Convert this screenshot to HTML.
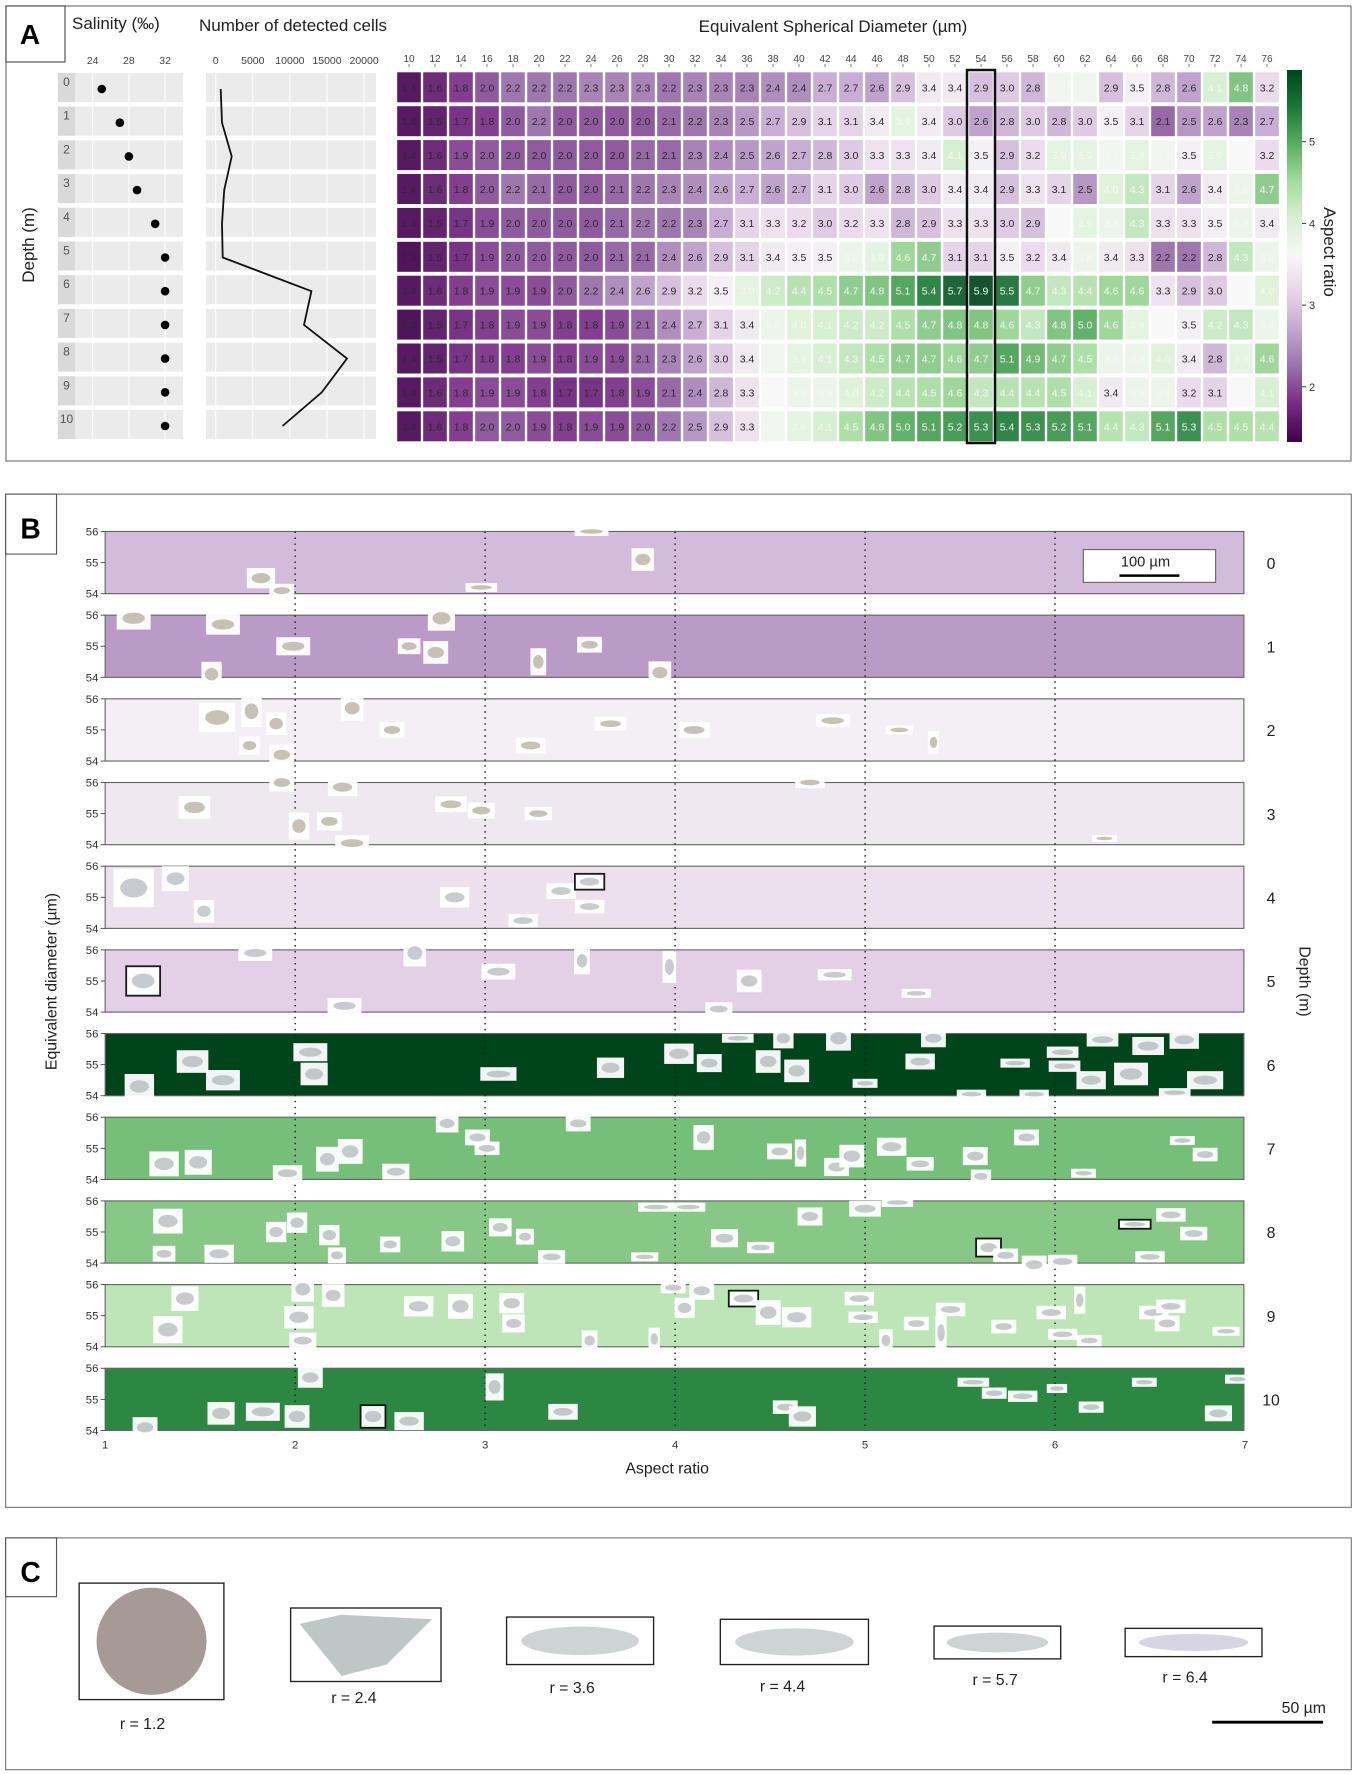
<!DOCTYPE html>
<html><head><meta charset="utf-8">
<style>
html,body{margin:0;padding:0;background:#fff;}
svg{display:block;font-family:"Liberation Sans",Arial,sans-serif;}
</style></head>
<body>
<svg id="fig" width="1357" height="1774" viewBox="0 0 1357 1774" xmlns="http://www.w3.org/2000/svg">
  <rect x="0" y="0" width="1357" height="1774" fill="#fff"/>
  <g id="panelA">
    <rect x="6" y="6" width="1345" height="455" fill="#fff" stroke="#777" stroke-width="1.2"/>
    <rect x="6" y="6" width="59" height="56" fill="#fff" stroke="#555" stroke-width="1.2"/>
    <text x="30" y="44" font-size="28" font-weight="bold" text-anchor="middle">A</text>
    <text x="72" y="29" font-size="17" fill="#222">Salinity (‰)</text>
    <text x="199" y="31" font-size="17" fill="#222">Number of detected cells</text>
    <text x="833" y="32" font-size="17" fill="#222" text-anchor="middle">Equivalent Spherical Diameter (µm)</text>
    <text transform="translate(34,245) rotate(-90)" font-size="17" fill="#222" text-anchor="middle">Depth (m)</text>
    <text transform="translate(1324,252) rotate(90)" font-size="17" fill="#222" text-anchor="middle">Aspect ratio</text>
    <defs>
      <linearGradient id="cbar" x1="0" y1="1" x2="0" y2="0">
        <stop offset="0" stop-color="#40004b"/><stop offset="0.1" stop-color="#762a83"/>
        <stop offset="0.2" stop-color="#9970ab"/><stop offset="0.3" stop-color="#c2a5cf"/>
        <stop offset="0.4" stop-color="#e7d4e8"/><stop offset="0.5" stop-color="#f7f7f7"/>
        <stop offset="0.6" stop-color="#d9f0d3"/><stop offset="0.7" stop-color="#a6dba0"/>
        <stop offset="0.8" stop-color="#5aae61"/><stop offset="0.9" stop-color="#1b7837"/>
        <stop offset="1" stop-color="#00441b"/>
      </linearGradient>
    </defs>
    <rect x="1287" y="70" width="15" height="372" fill="url(#cbar)"/>
    <g id="gA"></g>
  </g>
  <g transform="scale(1.1308)">
    <g id="panelB">
      <rect x="5" y="437" width="1190" height="896" fill="#fff" stroke="#777" stroke-width="1"/>
      <rect x="5" y="437" width="45" height="53" fill="#fff" stroke="#555" stroke-width="1"/>
      <text x="27" y="476" font-size="25" font-weight="bold" text-anchor="middle">B</text>
      <g id="gB"></g>
      <text x="590" y="1303" font-size="14" text-anchor="middle" fill="#222">Aspect ratio</text>
      <text transform="translate(50,868) rotate(-90)" font-size="14" text-anchor="middle" fill="#222">Equivalent diameter (µm)</text>
      <text transform="translate(1149,868) rotate(90)" font-size="14" text-anchor="middle" fill="#222">Depth (m)</text>
      <g>
        <rect x="958" y="486" width="117" height="29" fill="#fff" stroke="#666" stroke-width="1"/>
        <text x="1013" y="501" font-size="13" text-anchor="middle" fill="#222">100 µm</text>
        <line x1="990" y1="509" x2="1043" y2="509" stroke="#000" stroke-width="2.2"/>
      </g>
    </g>
    <g id="panelC">
      <rect x="5" y="1360" width="1190" height="205" fill="#fff" stroke="#777" stroke-width="1"/>
      <rect x="5" y="1360" width="45" height="52" fill="#fff" stroke="#555" stroke-width="1"/>
      <text x="27" y="1399" font-size="25" font-weight="bold" text-anchor="middle">C</text>
      <g id="gC"></g>
      <line x1="1072" y1="1523" x2="1170" y2="1523" stroke="#000" stroke-width="2.5"/>
      <text x="1153" y="1515" font-size="14" text-anchor="middle" fill="#222">50 µm</text>
    </g>
  </g>
</svg>
<script>
const depths = [0,1,2,3,4,5,6,7,8,9,10];
const salinity = [25.0,27.0,28.0,28.9,30.9,32.0,32.0,32.0,32.0,32.0,32.0];
const salinityTicks = [24,28,32];
const cellCounts = [670,850,2150,1150,850,950,12900,11900,17700,14300,9000];
const cellTicks = [0,5000,10000,15000,20000];
const diameters = [10,12,14,16,18,20,22,24,26,28,30,32,34,36,38,40,42,44,46,48,50,52,54,56,58,60,62,64,66,68,70,72,74,76];
const aspect = [
 [1.4,1.6,1.8,2.0,2.2,2.2,2.2,2.3,2.3,2.3,2.2,2.3,2.3,2.3,2.4,2.4,2.7,2.7,2.6,2.9,3.4,3.4,2.9,3.0,2.8,3.7,3.7,2.9,3.5,2.8,2.6,4.1,4.8,3.2],
 [1.4,1.5,1.7,1.8,2.0,2.2,2.0,2.0,2.0,2.0,2.1,2.2,2.3,2.5,2.7,2.9,3.1,3.1,3.4,3.9,3.4,3.0,2.6,2.8,3.0,2.8,3.0,3.5,3.1,2.1,2.5,2.6,2.3,2.7],
 [1.4,1.6,1.9,2.0,2.0,2.0,2.0,2.0,2.0,2.1,2.1,2.3,2.4,2.5,2.6,2.7,2.8,3.0,3.3,3.3,3.4,4.1,3.5,2.9,3.2,3.9,3.9,3.7,3.9,3.7,3.5,3.9,3.6,3.2],
 [1.4,1.6,1.8,2.0,2.2,2.1,2.0,2.0,2.1,2.2,2.3,2.4,2.6,2.7,2.6,2.7,3.1,3.0,2.6,2.8,3.0,3.4,3.4,2.9,3.3,3.1,2.5,4.0,4.3,3.1,2.6,3.4,3.8,4.7],
 [1.4,1.5,1.7,1.9,2.0,2.0,2.0,2.0,2.1,2.2,2.2,2.3,2.7,3.1,3.3,3.2,3.0,3.2,3.3,2.8,2.9,3.3,3.3,3.0,2.9,3.6,3.9,3.8,4.3,3.3,3.3,3.5,3.8,3.4],
 [1.3,1.5,1.7,1.9,2.0,2.0,2.0,2.0,2.1,2.1,2.4,2.6,2.9,3.1,3.4,3.5,3.5,3.8,3.9,4.6,4.7,3.1,3.1,3.5,3.2,3.4,3.8,3.4,3.3,2.2,2.2,2.8,4.3,3.8],
 [1.4,1.6,1.8,1.9,1.9,1.9,2.0,2.2,2.4,2.6,2.9,3.2,3.5,3.9,4.2,4.4,4.5,4.7,4.8,5.1,5.4,5.7,5.9,5.5,4.7,4.3,4.4,4.6,4.6,3.3,2.9,3.0,3.6,4.0],
 [1.3,1.5,1.7,1.8,1.9,1.9,1.8,1.8,1.9,2.1,2.4,2.7,3.1,3.4,3.8,4.0,4.1,4.2,4.2,4.5,4.7,4.8,4.8,4.6,4.3,4.8,5.0,4.6,3.9,3.6,3.5,4.2,4.3,3.8],
 [1.4,1.5,1.7,1.8,1.8,1.9,1.8,1.9,1.9,2.1,2.3,2.6,3.0,3.4,3.7,3.9,4.1,4.3,4.5,4.7,4.7,4.6,4.7,5.1,4.9,4.7,4.5,3.8,3.8,4.0,3.4,2.8,3.9,4.6],
 [1.4,1.6,1.8,1.9,1.9,1.8,1.7,1.7,1.8,1.9,2.1,2.4,2.8,3.3,3.6,3.8,3.8,4.0,4.2,4.4,4.5,4.6,4.3,4.4,4.4,4.5,4.1,3.4,3.8,3.8,3.2,3.1,3.6,4.1],
 [1.4,1.6,1.8,2.0,2.0,1.9,1.8,1.9,1.9,2.0,2.2,2.5,2.9,3.3,3.7,3.9,4.1,4.5,4.8,5.0,5.1,5.2,5.3,5.4,5.3,5.2,5.1,4.4,4.3,5.1,5.3,4.5,4.5,4.4]
];
const highlightDiameter = 54;
const colorTicks = [2,3,4,5];
const ratioTicks = [1,2,3,4,5,6,7];
const diamTicks = [54,55,56];
const thumbs0 = [[1.82,54.5,25,18],[1.93,54.1,22,12],[2.98,54.2,28,8],[3.56,56,30,8],[3.83,55.1,20,20]];
const thumbs1 = [[1.15,55.9,30,20],[1.62,55.7,30,18],[1.99,55.0,30,16],[1.56,54.1,18,22],[2.77,55.9,24,22],[2.60,55.0,20,14],[2.74,54.8,22,20],[3.28,54.5,14,24],[3.55,55.05,22,14],[3.92,54.15,20,20]];
const thumbs2 = [[1.59,55.4,32,26],[1.77,55.6,18,28],[1.9,55.2,18,20],[2.30,55.7,20,22],[2.51,55.0,22,14],[1.76,54.5,18,16],[1.93,54.2,22,18],[3.24,54.5,26,14],[3.66,55.2,28,12],[4.1,55.0,28,14],[4.83,55.3,30,12],[5.18,55.0,24,8],[5.36,54.6,10,20]];
const thumbs3 = [[1.93,56,22,16],[2.25,55.85,26,16],[1.47,55.2,28,20],[2.02,54.6,18,24],[2.18,54.75,22,16],[2.30,54.05,30,14],[2.82,55.3,28,14],[2.98,55.1,24,14],[3.28,55.0,24,12],[4.71,56,26,10],[6.26,54.2,22,6]];
const thumbs4 = [[1.15,55.3,36,34],[1.37,55.6,24,22],[1.52,54.55,18,20],[2.84,55.0,26,18],[3.2,54.25,26,12],[3.4,55.2,26,14],[3.55,55.5,26,14,1],[3.55,54.7,26,12]];
const thumbs5 = [[1.2,55.0,30,26,1],[1.79,55.9,30,14],[2.26,54.2,30,14],[2.63,55.9,20,24],[3.07,55.3,30,14],[3.51,55.65,14,24],[3.97,55.45,12,28],[4.39,55.0,22,20],[4.84,55.2,30,10],[5.27,54.6,26,8],[4.23,54.1,24,12]];
const thumbs6 = [[1.46,55.1,28,20],[1.62,54.5,30,18],[1.18,54.3,26,22],[2.08,55.4,30,16],[2.1,54.7,24,20],[3.07,54.7,32,12],[3.66,54.9,24,18],[4.02,55.35,26,18],[4.18,55.05,22,16],[4.33,55.85,28,8],[4.49,55.1,22,20],[4.57,55.85,18,18],[4.64,54.8,22,20],[4.86,55.85,22,22],[5.0,54.4,22,8],[5.36,55.85,22,16],[5.29,55.1,26,14],[5.56,54.05,26,8],[5.79,55.05,26,8],[5.89,54.05,26,8],[6.04,55.4,28,10],[6.05,54.95,28,10],[6.25,55.8,28,12],[6.49,55.6,28,16],[6.68,55.8,26,16],[6.4,54.7,30,20],[6.79,54.5,32,16],[6.63,54.1,28,8],[6.19,54.5,26,16]];
const thumbs7 = [[1.31,54.5,26,22],[1.49,54.55,24,22],[1.96,54.2,26,14],[2.17,54.65,20,22],[2.29,54.9,22,22],[2.53,54.25,24,14],[2.80,55.8,20,16],[2.96,55.35,22,14],[3.01,55.0,22,12],[3.49,55.8,22,14],[4.15,55.35,18,22],[4.55,54.9,22,14],[4.66,54.85,10,24],[4.85,54.4,22,16],[4.93,54.75,22,20],[5.14,55.05,26,16],[5.29,54.5,24,12],[5.58,54.75,22,16],[5.61,54.1,18,12],[5.85,55.35,22,14],[6.15,54.2,22,8],[6.67,55.25,22,8],[6.79,54.8,22,12]];
const thumbs8 = [[1.33,55.35,26,22],[1.6,54.3,26,16],[1.31,54.3,20,14],[1.9,55.0,18,18],[2.01,55.3,18,18],[2.18,54.9,18,18],[2.22,54.25,16,14],[2.5,54.6,18,14],[2.83,54.7,20,18],[3.08,55.15,20,16],[3.21,54.85,16,14],[3.35,54.2,24,12],[3.84,54.2,24,8],[3.9,55.8,32,8],[4.07,55.8,30,8],[4.26,54.8,24,16],[4.45,54.5,24,10],[4.71,55.5,22,16],[5.0,55.75,28,14],[5.17,55.95,28,8],[5.65,54.5,22,16,1],[5.74,54.25,22,12],[5.89,53.95,22,16],[6.04,54.05,26,12],[6.42,55.25,28,8,1],[6.61,55.55,26,12],[6.73,54.95,24,12],[6.5,54.2,26,10]];
const thumbs9 = [[1.42,55.55,24,22],[1.33,54.55,26,24],[2.04,55.85,20,22],[2.2,55.65,20,20],[2.02,54.95,26,20],[2.04,54.2,24,14],[2.65,55.3,26,18],[2.87,55.3,22,22],[3.14,55.4,22,18],[3.15,54.75,20,16],[3.55,54.2,14,18],[3.89,54.25,10,20],[3.99,55.9,22,10],[4.05,55.25,18,18],[4.14,55.8,22,16],[4.36,55.55,26,14,1],[4.49,55.1,22,22],[4.64,54.95,26,18],[4.97,55.55,26,12],[4.99,54.95,26,10],[5.11,54.2,12,20],[5.27,54.75,22,12],[5.40,54.45,10,30],[5.45,55.2,26,12],[5.73,54.65,22,12],[5.98,55.1,26,12],[6.04,54.4,26,10],[6.13,55.5,10,24],[6.18,54.2,22,10],[6.52,55.1,26,12],[6.61,55.3,26,12],[6.59,54.75,22,14],[6.9,54.5,24,8]];
const thumbs10 = [[1.21,54.1,22,18],[1.61,54.55,24,20],[1.83,54.6,30,16],[2.01,54.45,22,20],[2.08,55.7,22,18],[2.41,54.45,22,20,1],[2.6,54.3,26,16],[3.05,55.4,16,24],[3.41,54.6,26,14],[4.58,54.75,22,12],[4.67,54.45,24,18],[5.57,55.55,28,8],[5.68,55.2,22,10],[5.83,55.1,26,10],[6.01,55.35,18,8],[6.19,54.75,22,10],[6.47,55.55,22,8],[6.86,54.55,24,14],[6.96,55.65,22,8]];
const thumbsByDepth = [thumbs0,thumbs1,thumbs2,thumbs3,thumbs4,thumbs5,thumbs6,thumbs7,thumbs8,thumbs9,thumbs10];
const exampleRatios = [1.2,2.4,3.6,4.4,5.7,6.4];

const NS = "http://www.w3.org/2000/svg";
function mk(tag, attrs, parent){ const e=document.createElementNS(NS,tag); for(const k in attrs) e.setAttribute(k,attrs[k]); parent.appendChild(e); return e; }
const stops=[[64,0,75],[118,42,131],[153,112,171],[194,165,207],[231,212,232],[247,247,247],[217,240,211],[166,219,160],[90,174,97],[27,120,55],[0,68,27]];
const VMIN=1.32, VMAX=5.88;
function prgn(v){ let t=(v-VMIN)/(VMAX-VMIN); t=Math.max(0,Math.min(1,t)); const p=t*10; const i=Math.min(9,Math.floor(p)); const f=p-i; const a=stops[i], b=stops[i+1]; return `rgb(${Math.round(a[0]+(b[0]-a[0])*f)},${Math.round(a[1]+(b[1]-a[1])*f)},${Math.round(a[2]+(b[2]-a[2])*f)})`; }

const gA=document.getElementById('gA');
const rowTop=i=>73+i*33.7, rowH=29;
const salX=v=>92.7+(v-24)*9.05;
const cellX=v=>215.7+v*(37.1/5000);
const hmX=j=>409+j*26.0, hmY=i=>72.3+i*33.9;
const cbY=v=>141.7-(v-5)*81.7;
depths.forEach((d,i)=>{
  let r=mk('rect',{x:58,y:rowTop(i),width:125,height:rowH,fill:'#ebebeb'},gA);
  
  
  mk('rect',{x:58,y:rowTop(i),width:17,height:rowH,fill:'#d9d9d9'},gA);
  let t=mk('text',{x:66.5,y:rowTop(i)+13,'font-size':12,'text-anchor':'middle',fill:'#555'},gA);
  t.textContent=d;
  
  
  let r2=mk('rect',{x:206,y:rowTop(i),width:170,height:rowH,fill:'#ebebeb'},gA);
  
  
});
salinityTicks.forEach(v=>{
  mk('line',{x1:salX(v),x2:salX(v),y1:73,y2:rowTop(10)+rowH,stroke:'#fff','stroke-width':1},gA);
  let t=mk('text',{x:salX(v),y:64,'font-size':10.5,'text-anchor':'middle',fill:'#444'},gA);
  t.textContent=v;
  
  
});
salinity.forEach((s,i)=>{
  let c=mk('circle',{cx:salX(s),cy:rowTop(i)+16,r:4.3,fill:'#000'},gA);
  
  
});
cellTicks.forEach(v=>{
  mk('line',{x1:cellX(v),x2:cellX(v),y1:73,y2:rowTop(10)+rowH,stroke:'#fff','stroke-width':1},gA);
  let t=mk('text',{x:cellX(v),y:64,'font-size':10.5,'text-anchor':'middle',fill:'#444'},gA);
  t.textContent=v;
  
  
});
let pts=cellCounts.map((c,i)=>cellX(c).toFixed(1)+','+(rowTop(i)+16).toFixed(1)).join(' ');
let pl=mk('polyline',{points:pts,fill:'none',stroke:'#111','stroke-width':1.8},gA);


diameters.forEach((d,j)=>{
  let t=mk('text',{x:hmX(j),y:62,'font-size':10,'text-anchor':'middle',fill:'#444'},gA);
  t.textContent=d;
  
  
  mk('line',{x1:hmX(j),x2:hmX(j),y1:64,y2:67,stroke:'#666','stroke-width':0.8},gA);
});
aspect.forEach((row,i)=>{
  row.forEach((v,j)=>{
    let r=mk('rect',{x:hmX(j)-11.8,y:hmY(i),width:23.6,height:30,fill:prgn(v),opacity:0.92},gA);
    
    
    let t=mk('text',{x:hmX(j),y:hmY(i)+19,'font-size':10.5,'text-anchor':'middle',fill:(v>=3.6?'#f4f9f2':'#2a2a2a')},gA);
    t.textContent=v.toFixed(1);
    
    
  });
});
const hj=diameters.indexOf(highlightDiameter);
let hb=mk('rect',{x:hmX(hj)-14,y:70,width:28,height:373,fill:'none',stroke:'#111','stroke-width':2.5},gA);


colorTicks.forEach(v=>{
  mk('line',{x1:1302,x2:1306,y1:cbY(v),y2:cbY(v),stroke:'#333','stroke-width':1},gA);
  let t=mk('text',{x:1309,y:cbY(v)+4,'font-size':11,fill:'#333'},gA);
  t.textContent=v;
  
  
});

const gB=document.getElementById('gB');
const bx=r=>93+(r-1)*168;
const stripTop=i=>470+i*74, SH=55;
const by=(i,d)=>stripTop(i)+(56-d)/2*SH;
depths.forEach((d,i)=>{
  let s=mk('rect',{x:93,y:stripTop(i),width:1007,height:SH,fill:prgn(aspect[i][hj]),stroke:'#666','stroke-width':1},gB);
  
  
  diamTicks.forEach(v=>{
    mk('line',{x1:89,x2:93,y1:by(i,v),y2:by(i,v),stroke:'#444','stroke-width':0.8},gB);
    let t=mk('text',{x:87,y:by(i,v)+3.5,'font-size':10,'text-anchor':'end',fill:'#333'},gB);
    t.textContent=v;
    
    
  });
  let lt=mk('text',{x:1124,y:stripTop(i)+33,'font-size':14,'text-anchor':'middle',fill:'#222'},gB);
  lt.textContent=d;
  
  
});
ratioTicks.forEach(r=>{
  if(r>1&&r<7){
    let l=mk('line',{x1:bx(r),x2:bx(r),y1:470,y2:1265,stroke:'#222','stroke-width':1.3,'stroke-dasharray':'1.3,4'},gB);
    
    
  }
  let t=mk('text',{x:bx(r),y:1281,'font-size':10,'text-anchor':'middle',fill:'#333'},gB);
  t.textContent=r;
  
  
});
thumbsByDepth.forEach((list,i)=>{
  list.forEach(th=>{
    const cx=bx(th[0]), cy=by(i,th[1]), w=th[2], h=th[3];
    let g=mk('g',{},gB);
    
    
    mk('rect',{x:cx-w/2,y:cy-h/2,width:w,height:h,fill:'#fff',opacity:0.95,stroke:th[4]?'#111':'none','stroke-width':th[4]?1.6:0},g);
    const col = i<=3 ? '#9a8f7a' : '#9aa0a8';
    mk('ellipse',{cx:cx,cy:cy,rx:w*0.33,ry:Math.max(1.5,h*0.25),fill:col,opacity:0.55},g);
  });
});

const gC=document.getElementById('gC');
const cBoxes=[[70,1400,128,103,126,1529],[257,1422,133,65,313,1506],[448,1430,130,42,506,1497],[637,1432,131,40,692,1496],[826,1438,112,29,880,1490],[995,1440,121,25,1048,1488]];
exampleRatios.forEach((r,k)=>{
  const b=cBoxes[k];
  let g=mk('g',{},gC);
  
  
  mk('rect',{x:b[0],y:b[1],width:b[2],height:b[3],fill:'#fff',stroke:'#222','stroke-width':1.2},g);
  const cx=b[0]+b[2]/2, cy=b[1]+b[3]/2;
  if(k===0){
    mk('ellipse',{cx:cx,cy:cy,rx:b[2]*0.38,ry:b[3]*0.46,fill:'#9c8f8c',opacity:0.9},g);
  } else if(k===1){
    mk('polygon',{points:`${b[0]+8},${b[1]+14} ${b[0]+45},${b[1]+6} ${b[0]+125},${b[1]+10} ${b[0]+85},${b[1]+50} ${b[0]+45},${b[1]+60}`,fill:'#8fa2a0',opacity:0.6},g);
  } else {
    const fill = k===5 ? '#b7b2cf' : '#a5aeae';
    mk('ellipse',{cx:cx,cy:cy,rx:b[2]*0.4,ry:b[3]*0.3,fill:fill,opacity:0.55},g);
  }
  let t=mk('text',{x:b[4],y:b[5],'font-size':14,'text-anchor':'middle',fill:'#222'},gC);
  t.textContent='r = '+r.toFixed(1);
  
  
});
</script>
</body></html>
